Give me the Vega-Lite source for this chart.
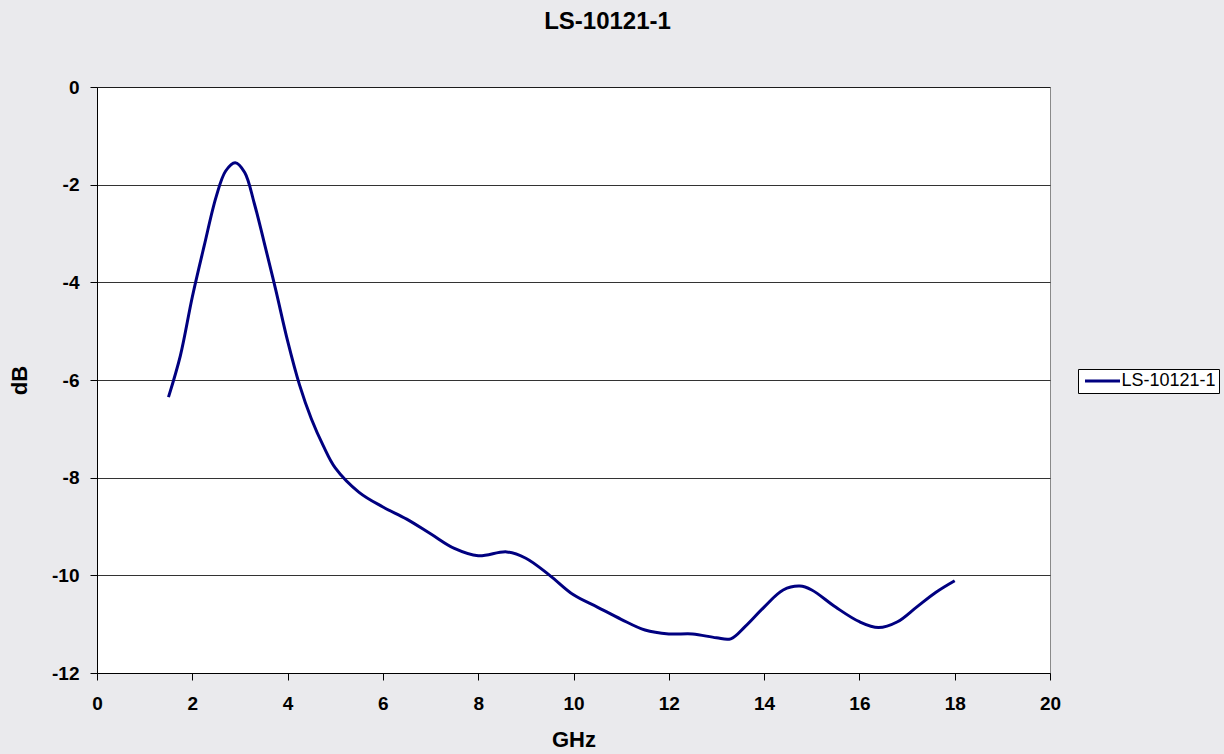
{
  "$schema": "https://vega.github.io/schema/vega-lite/v6.json",
  "autosize": "none",
  "padding": {"left": 97, "top": 87, "right": 174, "bottom": 81},
  "width": 953,
  "height": 586,
  "background": "#eaeaed",
  "config": {
    "font": "Liberation Sans",
    "view": {"fill": "white", "stroke": "#8a8a8a", "strokeWidth": 1}
  },
  "title": {
    "text": "LS-10121-1",
    "font": "Liberation Sans",
    "fontSize": 24,
    "fontWeight": "bold",
    "color": "black",
    "dx": 34,
    "offset": 44
  },
  "data": {
    "values": [
      {"GHz": 1.5, "dB": -6.35, "series": "LS-10121-1"},
      {"GHz": 1.75, "dB": -5.5, "series": "LS-10121-1"},
      {"GHz": 2.0, "dB": -4.3, "series": "LS-10121-1"},
      {"GHz": 2.25, "dB": -3.25, "series": "LS-10121-1"},
      {"GHz": 2.5, "dB": -2.25, "series": "LS-10121-1"},
      {"GHz": 2.7, "dB": -1.72, "series": "LS-10121-1"},
      {"GHz": 2.9, "dB": -1.55, "series": "LS-10121-1"},
      {"GHz": 3.1, "dB": -1.75, "series": "LS-10121-1"},
      {"GHz": 3.3, "dB": -2.38, "series": "LS-10121-1"},
      {"GHz": 3.5, "dB": -3.15, "series": "LS-10121-1"},
      {"GHz": 3.75, "dB": -4.15, "series": "LS-10121-1"},
      {"GHz": 4.0, "dB": -5.2, "series": "LS-10121-1"},
      {"GHz": 4.25, "dB": -6.1, "series": "LS-10121-1"},
      {"GHz": 4.5, "dB": -6.8, "series": "LS-10121-1"},
      {"GHz": 4.75, "dB": -7.35, "series": "LS-10121-1"},
      {"GHz": 5.0, "dB": -7.8, "series": "LS-10121-1"},
      {"GHz": 5.5, "dB": -8.3, "series": "LS-10121-1"},
      {"GHz": 6.0, "dB": -8.6, "series": "LS-10121-1"},
      {"GHz": 6.5, "dB": -8.85, "series": "LS-10121-1"},
      {"GHz": 7.0, "dB": -9.15, "series": "LS-10121-1"},
      {"GHz": 7.5, "dB": -9.45, "series": "LS-10121-1"},
      {"GHz": 8.0, "dB": -9.6, "series": "LS-10121-1"},
      {"GHz": 8.6, "dB": -9.52, "series": "LS-10121-1"},
      {"GHz": 9.0, "dB": -9.65, "series": "LS-10121-1"},
      {"GHz": 9.5, "dB": -10.0, "series": "LS-10121-1"},
      {"GHz": 10.0, "dB": -10.4, "series": "LS-10121-1"},
      {"GHz": 10.5, "dB": -10.65, "series": "LS-10121-1"},
      {"GHz": 11.0, "dB": -10.9, "series": "LS-10121-1"},
      {"GHz": 11.5, "dB": -11.12, "series": "LS-10121-1"},
      {"GHz": 12.0, "dB": -11.2, "series": "LS-10121-1"},
      {"GHz": 12.5, "dB": -11.2, "series": "LS-10121-1"},
      {"GHz": 13.0, "dB": -11.28, "series": "LS-10121-1"},
      {"GHz": 13.3, "dB": -11.3, "series": "LS-10121-1"},
      {"GHz": 13.6, "dB": -11.05, "series": "LS-10121-1"},
      {"GHz": 14.0, "dB": -10.65, "series": "LS-10121-1"},
      {"GHz": 14.4, "dB": -10.3, "series": "LS-10121-1"},
      {"GHz": 14.75, "dB": -10.22, "series": "LS-10121-1"},
      {"GHz": 15.0, "dB": -10.3, "series": "LS-10121-1"},
      {"GHz": 15.5, "dB": -10.65, "series": "LS-10121-1"},
      {"GHz": 16.0, "dB": -10.95, "series": "LS-10121-1"},
      {"GHz": 16.4, "dB": -11.07, "series": "LS-10121-1"},
      {"GHz": 16.8, "dB": -10.95, "series": "LS-10121-1"},
      {"GHz": 17.2, "dB": -10.65, "series": "LS-10121-1"},
      {"GHz": 17.6, "dB": -10.35, "series": "LS-10121-1"},
      {"GHz": 18.0, "dB": -10.11, "series": "LS-10121-1"}
    ]
  },
  "mark": {"type": "line", "interpolate": "catmull-rom", "strokeWidth": 3},
  "encoding": {
    "x": {
      "field": "GHz",
      "type": "quantitative",
      "scale": {"domain": [0, 20], "nice": false, "zero": false},
      "axis": {
        "title": "GHz",
        "titleFontSize": 22,
        "titleFontWeight": "bold",
        "titleColor": "black",
        "titlePadding": 16,
        "values": [0, 2, 4, 6, 8, 10, 12, 14, 16, 18, 20],
        "grid": false,
        "domainColor": "black",
        "tickColor": "black",
        "tickSize": 7,
        "labelFontSize": 19,
        "labelFontWeight": "bold",
        "labelColor": "black",
        "labelPadding": 14,
        "labelFlush": false
      }
    },
    "y": {
      "field": "dB",
      "type": "quantitative",
      "scale": {"domain": [-12, 0], "nice": false, "zero": false},
      "axis": {
        "title": "dB",
        "titleFontSize": 22,
        "titleFontWeight": "bold",
        "titleColor": "black",
        "titlePadding": 20,
        "values": [0, -2, -4, -6, -8, -10, -12],
        "labelExpr": "replace(datum.label, '−', '-')",
        "grid": true,
        "gridColor": "black",
        "gridWidth": 1,
        "gridOpacity": 0.8,
        "domainColor": "black",
        "tickColor": "black",
        "tickSize": 7,
        "labelFontSize": 19,
        "labelFontWeight": "bold",
        "labelColor": "black",
        "labelPadding": 11,
        "labelFlush": false
      }
    },
    "color": {
      "field": "series",
      "type": "nominal",
      "scale": {"range": ["#000080"]},
      "legend": {
        "title": null,
        "orient": "none",
        "legendX": 981,
        "legendY": 282,
        "symbolType": "M-2.5,0H2.5",
        "symbolSize": 196,
        "symbolOffset": 12.5,
        "symbolStrokeWidth": 3,
        "labelFontSize": 18,
        "labelColor": "black",
        "fillColor": "white",
        "strokeColor": "black",
        "padding": 3,
        "labelOffset": 10
      }
    }
  }
}
